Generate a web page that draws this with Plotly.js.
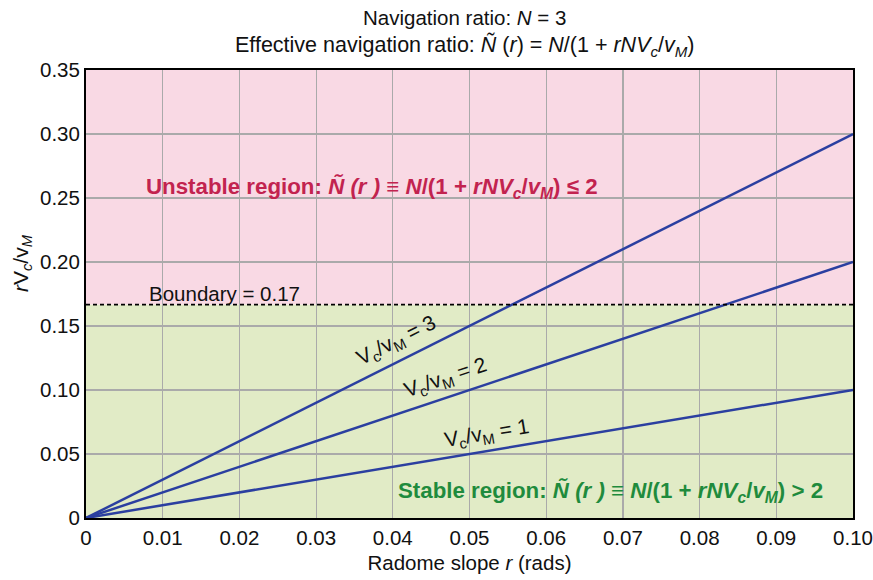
<!DOCTYPE html>
<html>
<head>
<meta charset="utf-8">
<script src="https://cdn.plot.ly/plotly-3.0.1.min.js"></script>
<style>html,body{margin:0;padding:0;background:#fff;}#chart{width:873px;height:580px;}</style>
</head>
<body>
<div id="chart"></div>
<script>
// Data
const slopeR = [0, 0.1];
const ratios = [1, 2, 3];
const lineValues = {
  1: [0, 0.10],
  2: [0, 0.20],
  3: [0, 0.30]
};
const boundary = 0.1667;
const xTicks = [0, 0.01, 0.02, 0.03, 0.04, 0.05, 0.06, 0.07, 0.08, 0.09, 0.10];
const xTickText = ['0','0.01','0.02','0.03','0.04','0.05','0.06','0.07','0.08','0.09','0.10'];
const yTicks = [0, 0.05, 0.10, 0.15, 0.20, 0.25, 0.30, 0.35];
const yTickText = ['0','0.05','0.10','0.15','0.20','0.25','0.30','0.35'];
const labelPos = { 3: [0.0405, 0.138], 2: [0.047, 0.109], 1: [0.0523, 0.066] };
const labelAngle = { 3: -26.5, 2: -18.5, 1: -9.5 };

const FONT = '"Liberation Sans", Arial, Helvetica, sans-serif';
const lineColor = '#2b3fa0';
const FS = 20.5;
const plotW = 873 - 86 - 20;
const plotH = 580 - 70 - 62;

const traces = ratios.map(k => ({
  x: slopeR, y: lineValues[k], mode: 'lines', type: 'scatter',
  line: { color: lineColor, width: 2.5 }, hoverinfo: 'none', showlegend: false
}));
traces.push({
  x: [slopeR[0], slopeR[slopeR.length-1]], y: [boundary, boundary], mode: 'lines', type: 'scatter',
  line: { color: '#000', width: 1.6, dash: '4px,3px' }, hoverinfo: 'none', showlegend: false
});

const annotations = ratios.map(k => ({
  x: labelPos[k][0], y: labelPos[k][1], xref: 'x', yref: 'y',
  text: 'V<sub>c</sub>/v<sub>M</sub> = ' + k, showarrow: false,
  textangle: labelAngle[k], font: { family: FONT, size: 21, color: '#111' }
}));
annotations.push({
  x: 0.0079, y: 0.1667, xref: 'x', yref: 'y', xanchor: 'left', yanchor: 'bottom', yshift: -2,
  text: 'Boundary = 0.17', showarrow: false, font: { family: FONT, size: FS, color: '#111' }
});
annotations.push({
  x: 0.0076, y: 0.2575, xref: 'x', yref: 'y', xanchor: 'left', yanchor: 'middle',
  text: '<b>Unstable region: <i>Ñ (r )</i> ≡ <i>N</i>/(1 + <i>rNV<sub>c</sub></i>/<i>v<sub>M</sub></i>) ≤ 2</b>',
  showarrow: false, font: { family: FONT, size: 22.3, color: '#c2234f' }
});
annotations.push({
  x: 0.0404, y: 0.0205, xref: 'x', yref: 'y', xanchor: 'left', yanchor: 'middle',
  text: '<b>Stable region: <i>Ñ (r )</i> ≡ <i>N</i>/(1 + <i>rNV<sub>c</sub></i>/<i>v<sub>M</sub></i>) > 2</b>',
  showarrow: false, font: { family: FONT, size: 22.3, color: '#1f8b3d' }
});
// Title lines (positions in pixels converted to paper fractions)
annotations.push({
  x: (464 - 86) / plotW, y: (518 - 17) / plotH, xref: 'paper', yref: 'paper', showarrow: false,
  xanchor: 'center', yanchor: 'middle',
  text: 'Navigation ratio: <i>N</i> = 3', font: { family: FONT, size: FS, color: '#111' }
});
annotations.push({
  x: (464 - 86) / plotW, y: (518 - 46) / plotH, xref: 'paper', yref: 'paper', showarrow: false,
  xanchor: 'center', yanchor: 'middle',
  text: 'Effective navigation ratio: <i>Ñ</i> (<i>r</i>) = <i>N</i>/(1 + <i>rNV<sub>c</sub></i>/<i>v<sub>M</sub></i>)',
  font: { family: FONT, size: 21.5, color: '#111' }
});
// Y axis title
annotations.push({
  x: (22 - 86) / plotW, y: (518 - 263) / plotH, xref: 'paper', yref: 'paper', showarrow: false,
  xanchor: 'center', yanchor: 'middle', textangle: -90,
  text: '<i>r</i>V<sub><i>c</i></sub>/v<sub><i>M</i></sub>', font: { family: FONT, size: 21, color: '#111' }
});

const layout = {
  width: 873, height: 580,
  margin: { l: 86, r: 20, t: 70, b: 62 },
  paper_bgcolor: '#fff', plot_bgcolor: '#fff',
  font: { family: FONT, size: FS, color: '#111' },
  xaxis: {
    range: [0, 0.1], tickvals: xTicks, ticktext: xTickText,
    showgrid: true, gridcolor: '#aaaaaa', gridwidth: 1.2,
    showline: true, linecolor: '#000', linewidth: 2, mirror: true,
    ticks: '', zeroline: false, fixedrange: true,
    tickfont: { family: FONT, size: FS, color: '#111' },
    title: { text: 'Radome slope <i>r</i> (rads)', font: { family: FONT, size: FS, color: '#111' }, standoff: 8 }
  },
  yaxis: {
    range: [0, 0.35], tickvals: yTicks, ticktext: yTickText,
    showgrid: true, gridcolor: '#aaaaaa', gridwidth: 1.2,
    showline: true, linecolor: '#000', linewidth: 2, mirror: true,
    ticks: '', zeroline: false, fixedrange: true,
    tickfont: { family: FONT, size: FS, color: '#111' }
  },
  shapes: [
    { type: 'rect', xref: 'x', yref: 'y', x0: 0, x1: 0.1, y0: 0, y1: boundary, fillcolor: '#e1ebc6', line: { width: 0 }, layer: 'below' },
    { type: 'rect', xref: 'x', yref: 'y', x0: 0, x1: 0.1, y0: boundary, y1: 0.35, fillcolor: '#f9d9e4', line: { width: 0 }, layer: 'below' }
  ],
  annotations: annotations
};

Plotly.newPlot('chart', traces, layout, { displayModeBar: false, staticPlot: true });
</script>
</body>
</html>
